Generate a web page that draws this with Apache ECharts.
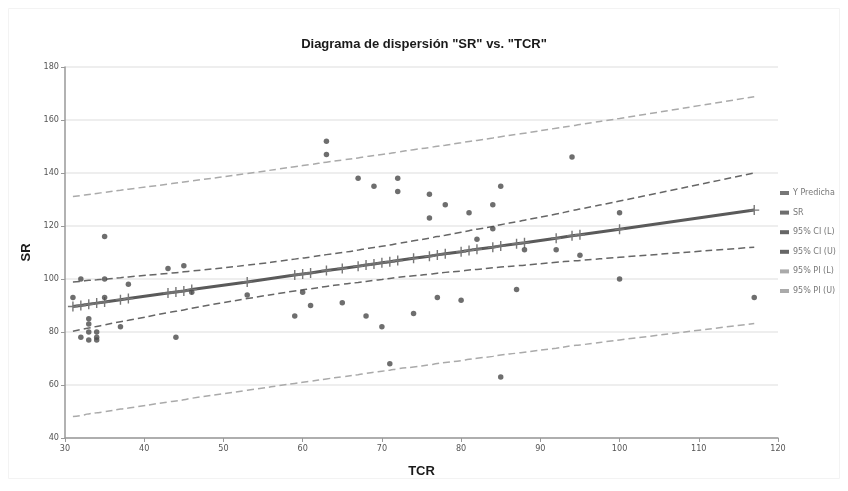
<!DOCTYPE html>
<html lang="es">
<head>
  <meta charset="UTF-8">
  <title>Diagrama de dispersión</title>
  <style>
    html, body { margin: 0; padding: 0; background: #fff; }
  </style>
</head>
<body>
  <div id="main" style="width:848px;height:491px;"></div>

  <script src="https://cdn.jsdelivr.net/npm/echarts@6/dist/echarts.min.js"></script>
  <script>
    // puntos observados [TCR, SR]
    var srPoints = [[31, 93], [32, 100], [32, 78], [33, 85], [33, 83], [33, 80], [33, 77], [34, 80], [34, 78], [34, 77],
      [35, 116], [35, 100], [35, 93], [37, 82], [38, 98], [43, 104], [44, 78], [45, 105], [46, 95], [53, 94],
      [59, 86], [60, 95], [61, 90], [63, 152], [63, 147], [65, 91], [67, 138], [68, 86], [69, 135], [70, 82],
      [71, 68], [72, 138], [72, 133], [74, 87], [76, 132], [76, 123], [77, 93], [78, 128], [80, 92], [81, 125],
      [82, 115], [84, 128], [84, 119], [85, 135], [85, 63], [87, 96], [88, 111], [92, 111], [94, 146], [95, 109],
      [100, 125], [100, 100], [117, 93]]

    // valores de TCR (ordenados) donde se evalua la recta
    var tcrX = [31, 32, 33, 34, 35, 37, 38, 43, 44, 45, 46, 53, 59, 60, 61, 63, 65, 67, 68, 69, 70, 71, 72, 74,
      76, 77, 78, 80, 81, 82, 84, 85, 87, 88, 92, 94, 95, 100, 117]

    var yPred = [89.6, 90.0, 90.5, 90.9, 91.3, 92.2, 92.6, 94.7, 95.1, 95.5, 96.0, 98.9, 101.5, 101.9, 102.3, 103.2,
      104.0, 104.8, 105.3, 105.7, 106.1, 106.5, 107.0, 107.8, 108.6, 109.1, 109.5, 110.3, 110.8, 111.2, 112.0,
      112.5, 113.3, 113.7, 115.4, 116.3, 116.7, 118.8, 126.0]

    var ciLow = [80.3, 80.9, 81.5, 82.1, 82.7, 83.9, 84.4, 87.3, 87.8, 88.3, 89.0, 92.6, 95.5, 95.9, 96.3, 97.2,
      98.0, 98.7, 99.1, 99.5, 99.8, 100.2, 100.6, 101.2, 101.8, 102.2, 102.5, 103.0, 103.4, 103.6, 104.2,
      104.5, 105.0, 105.2, 106.3, 106.8, 107.0, 108.2, 112.0]

    var ciUp = [98.9, 99.1, 99.5, 99.7, 99.9, 100.5, 100.8, 102.1, 102.4, 102.7, 103.0, 105.2, 107.5, 107.9, 108.3,
      109.2, 110.0, 110.9, 111.5, 111.9, 112.4, 112.8, 113.4, 114.4, 115.4, 116.0, 116.5, 117.6, 118.2, 118.8,
      119.8, 120.5, 121.6, 122.2, 124.5, 125.8, 126.4, 129.4, 140.0]

    var piLow = [48.1, 48.5, 49.1, 49.5, 49.9, 50.9, 51.3, 53.6, 54.0, 54.4, 55.0, 58.0, 60.6, 61.0, 61.4, 62.3,
      63.1, 63.9, 64.4, 64.8, 65.2, 65.6, 66.1, 66.8, 67.6, 68.1, 68.5, 69.2, 69.7, 70.1, 70.8, 71.3, 72.0,
      72.4, 73.9, 74.8, 75.1, 77.0, 83.2]

    var piUp = [131.1, 131.5, 131.9, 132.3, 132.7, 133.5, 133.9, 135.8, 136.2, 136.6, 137.0, 139.8, 142.4, 142.8,
      143.2, 144.1, 144.9, 145.7, 146.2, 146.6, 147.0, 147.4, 147.9, 148.8, 149.6, 150.1, 150.5, 151.4, 151.9,
      152.3, 153.2, 153.7, 154.6, 155.0, 156.9, 157.8, 158.3, 160.6, 168.8]

    var seriesNames = ['Y Predicha', 'SR', '95% CI (L)', '95% CI (U)', '95% PI (L)', '95% PI (U)']

    function pairs(ys) {
      return tcrX.map(function (x, i) { return [x, ys[i]] })
    }

    var plusSymbol = 'path://M4.3,0H5.7V10H4.3Z M0,4.3H10V5.7H0Z'

    function dashed(name, ys, color) {
      return {
        name: name,
        type: 'line',
        data: pairs(ys),
        smooth: true,
        showSymbol: false,
        color: color,
        lineStyle: { color: color, width: 1.5, type: [7, 4] },
        z: 2
      }
    }

    var myChart = echarts.init(document.getElementById('main'))

    var options = {
      animation: false,
      backgroundColor: '#fff',
      graphic: [{
        type: 'rect',
        shape: { x: 8.5, y: 8.5, width: 831, height: 470 },
        style: { fill: 'none', stroke: '#f3f3f3', lineWidth: 1 },
        silent: true
      }],
      title: {
        text: 'Diagrama de dispersión "SR" vs. "TCR"',
        left: 'center',
        top: 33,
        textStyle: { fontFamily: 'Liberation Sans', fontWeight: 'bold', fontSize: 13, color: '#1a1a1a' }
      },
      legend: {
        orient: 'vertical',
        left: 775,
        top: 184,
        itemWidth: 9,
        itemHeight: 4,
        itemGap: 11.6,
        icon: 'rect',
        data: seriesNames,
        textStyle: { fontFamily: 'DejaVu Sans', fontSize: 8, color: '#777', padding: [0, 0, 0, -1] }
      },
      grid: { left: 65, right: 70, top: 67, bottom: 53 },
      xAxis: {
        type: 'value',
        min: 30,
        max: 120,
        interval: 10,
        name: 'TCR',
        nameLocation: 'middle',
        nameGap: 27,
        nameTextStyle: { fontFamily: 'Liberation Sans', fontWeight: 'bold', fontSize: 13, color: '#1a1a1a' },
        axisLine: { lineStyle: { color: '#999', width: 1.5 } },
        axisTick: { length: 4, lineStyle: { color: '#999' } },
        axisLabel: { fontFamily: 'DejaVu Sans Condensed', fontSize: 9, color: '#555', margin: 6 },
        splitLine: { show: false }
      },
      yAxis: {
        type: 'value',
        min: 40,
        max: 180,
        interval: 20,
        name: 'SR',
        nameLocation: 'middle',
        nameGap: 30,
        nameTextStyle: { fontFamily: 'Liberation Sans', fontWeight: 'bold', fontSize: 13, color: '#1a1a1a' },
        axisLine: { show: true, lineStyle: { color: '#999', width: 1.5 } },
        axisTick: { show: true, length: 4, lineStyle: { color: '#999' } },
        axisLabel: { fontFamily: 'DejaVu Sans Condensed', fontSize: 9, color: '#555', margin: 6 },
        splitLine: { lineStyle: { color: '#e9e9e9', width: 1.5 } }
      },
      series: [
        {
          name: 'Y Predicha',
          type: 'line',
          data: pairs(yPred),
          color: '#555',
          lineStyle: { color: '#5a5a5a', width: 3 },
          symbol: plusSymbol,
          symbolSize: 10,
          showAllSymbol: true,
          itemStyle: { color: '#777' },
          z: 4
        },
        {
          name: 'SR',
          type: 'scatter',
          data: srPoints,
          color: '#555',
          symbolSize: 5.5,
          itemStyle: { color: '#4a4a4a' },
          z: 5
        },
        dashed('95% CI (L)', ciLow, '#666'),
        dashed('95% CI (U)', ciUp, '#666'),
        dashed('95% PI (L)', piLow, '#aaa'),
        dashed('95% PI (U)', piUp, '#aaa')
      ]
    }

    myChart.setOption(options)
  </script>
</body>
</html>
